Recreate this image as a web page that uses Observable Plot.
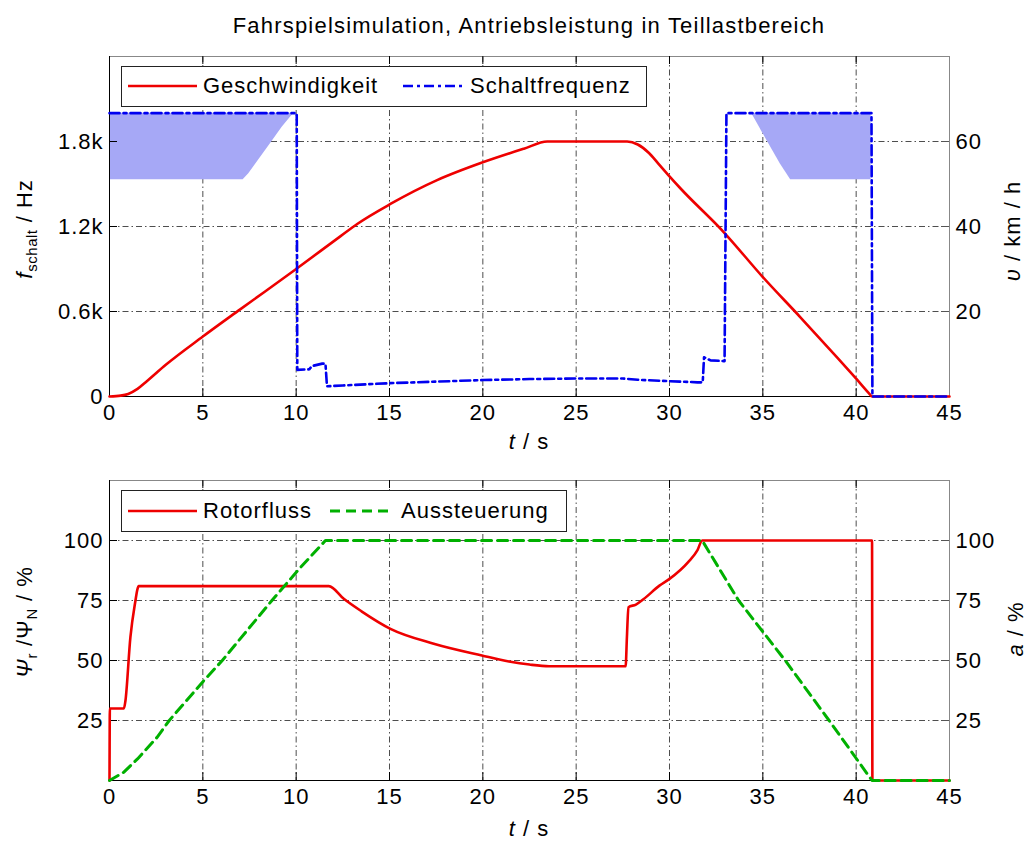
<!DOCTYPE html>
<html>
<head>
<meta charset="utf-8">
<script src="https://cdn.jsdelivr.net/npm/d3@7"></script>
<script src="https://cdn.jsdelivr.net/npm/@observablehq/plot@0.6"></script>
<style>
  body { margin: 0; background: #fff; font-family: "Liberation Sans", Arial, sans-serif; color: #000; }
  #wrap { position: relative; width: 1028px; height: 842px; overflow: hidden; }
  #wrap svg text { letter-spacing: 1px; }
  .ov { position: absolute; white-space: nowrap; line-height: 1; letter-spacing: 1px; z-index: 5; }
  .ov sub { font-size: 15px; vertical-align: -5px; letter-spacing: 0.5px; }
  .leg { position: absolute; border: 1px solid #222; background: #fff; z-index: 4; box-sizing: border-box; }
</style>
</head>
<body>
<div id="wrap"></div>
<script>
// ---------- data ----------
const title = "Fahrspielsimulation, Antriebsleistung in Teillastbereich";
const xTicks = [0, 5, 10, 15, 20, 25, 30, 35, 40, 45];
const xGrid = [5, 10, 15, 20, 25, 30, 35, 40];
const fTicks = [0, 600, 1200, 1800];
const fTickLabels = ["0", "0.6k", "1.2k", "1.8k"];
const vTicks = [20, 40, 60];
const pctTicks = [25, 50, 75, 100];
const HZ_PER_KMH = 30; // right axis: 20 km/h <-> 0.6 kHz

// Geschwindigkeit (km/h)
const speedT = [0, 0.6, 1.0, 1.5, 2.0, 3.0, 5.0, 7.0, 10, 12.4, 13.27, 15.05, 17.55, 20, 22.2, 23.45, 27.73, 28.3, 28.9, 29.4, 30.0, 30.58, 32.9, 35, 37, 39, 40, 40.7, 40.85, 45];
const speedV = [0, 0.2, 0.6, 1.8, 3.6, 7.4, 14.1, 20.5, 30.0, 37.8, 40.6, 45.3, 50.9, 55.1, 58.3, 60, 60, 59.3, 57.3, 54.8, 51.8, 49.0, 38.7, 28.1, 18.7, 9.1, 4.2, 0.7, 0, 0];

// Schaltfrequenz (Hz)
const freqT = [0, 10.03, 10.06, 10.7, 10.85, 11.4, 11.57, 11.65, 12.5, 15, 17.5, 20, 22.5, 25, 27.5, 28.3, 30, 31.5, 31.78, 31.85, 32.2, 32.9, 32.95, 33.05, 40.82, 40.87, 45];
const freqHz = [2000, 2000, 188, 192, 215, 232, 232, 72, 78, 94, 105, 116, 123, 127, 127, 118, 108, 100, 100, 277, 255, 250, 250, 2000, 2000, 0, 0];

// shaded areas (Hz vs s)
const shadeLeftT = [7.16, 7.46, 8.62, 9.25, 9.87];
const shadeLeftF = [1530, 1572, 1784, 1901, 2000];
const shadeRightT = [36.49, 35.94, 35.22, 34.4];
const shadeRightF = [1530, 1642, 1807, 2000];
const shadeRightEnd = 40.8;

// Rotorfluss (%)
const fluxT = [0, 0.02, 0.77, 0.85, 1.12, 1.35, 1.57, 11.75, 12.55, 13.5, 15.05, 17.37, 19.95, 21.4, 22.5, 23.55, 27.65, 27.72, 27.8, 28.2, 28.6, 29.46, 30, 31, 31.5, 31.75, 40.85, 40.87, 45];
const fluxPct = [0, 30, 30, 33, 59.7, 73, 81, 81, 75.7, 70.5, 63.2, 57, 52.1, 49.6, 48.3, 47.6, 47.6, 60, 72.2, 73.3, 75.5, 81.2, 84, 91, 96, 100, 100, 0, 0];

// Aussteuerung (%)
const modT = [0, 0.77, 1.5, 2.55, 3.2, 5.04, 6.04, 8.7, 10.2, 11.57, 31.75, 33.7, 36.2, 38.55, 40.85, 45];
const modPct = [0, 3.5, 9, 18, 25, 41.5, 50, 75, 88.5, 100, 100, 75, 50, 25, 0, 0];

// ---------- tables ----------
const speed = speedT.map((t, i) => ({t, v: speedV[i]}));
const freq = freqT.map((t, i) => ({t, f: freqHz[i]}));
const shadeL = shadeLeftT.map((t, i) => ({t, f: shadeLeftF[i]}));
const shadeR = shadeRightT.map((t, i) => ({t, f: shadeRightF[i]}));
const flux = fluxT.map((t, i) => ({t, p: fluxPct[i]}));
const mod = modT.map((t, i) => ({t, p: modPct[i]}));

// ---------- styles ----------
const RED = "#ee0000", BLUE = "#0000f0", GREEN = "#00b000", SHADE = "#a6a8f6";
const gridStyle = {stroke: "#222", strokeOpacity: 0.8, strokeWidth: 1, strokeDasharray: "6,3,1.5,3"};
const font = "'Liberation Sans', Arial, sans-serif";
const W = 1028, ML = 109, MR = 79;
const innerW = W - ML - MR;

const wrap = document.getElementById("wrap");

function tickMarks(xs, ys, innerH) {
  const k = 8;
  return [
    Plot.ruleX(xs, {insetTop: innerH - k, stroke: "#000"}),
    Plot.ruleX(xs, {insetBottom: innerH - k, stroke: "#000"}),
    Plot.ruleY(ys, {insetRight: innerW - k, stroke: "#000"}),
    Plot.ruleY(ys, {insetLeft: innerW - k, stroke: "#555"})
  ];
}

// ---------- top panel ----------
const topH = 340;
const topPlot = Plot.plot({
  width: W, height: 406,
  marginLeft: ML, marginRight: MR, marginTop: 6, marginBottom: 60,
  x: {domain: [0, 45]},
  y: {domain: [0, 2400]},
  style: {fontFamily: font, fontSize: "22px", color: "#000", background: "transparent", overflow: "visible"},
  marks: [
    Plot.ruleX(xGrid, gridStyle),
    Plot.ruleY(fTicks.slice(1), gridStyle),
    Plot.areaX(shadeL, {y: "f", x1: 0, x2: "t", fill: SHADE}),
    Plot.areaX(shadeR, {y: "f", x1: "t", x2: shadeRightEnd, fill: SHADE}),
    Plot.frame({stroke: "#888"}),
    ...tickMarks(xGrid, fTicks.slice(1), topH),
    Plot.ruleX([0], {stroke: "#000"}),
    Plot.ruleY([0], {stroke: "#000"}),
    Plot.line(speed, {x: "t", y: d => d.v * HZ_PER_KMH, stroke: RED, strokeWidth: 2.6, curve: "monotone-x"}),
    Plot.line(freq, {x: "t", y: "f", stroke: BLUE, strokeWidth: 2.6, strokeDasharray: "10,4,3,4"}),
    Plot.axisX({ticks: xTicks, tickSize: 0, tickPadding: 8, label: null}),
    Plot.axisY({ticks: fTicks, tickFormat: (d) => fTickLabels[fTicks.indexOf(d)], tickSize: 0, tickPadding: 6, label: null}),
    Plot.axisY({anchor: "right", ticks: vTicks.map(v => v * HZ_PER_KMH), tickFormat: d => String(d / HZ_PER_KMH), tickSize: 0, tickPadding: 6, label: null})
  ]
});
topPlot.style.position = "absolute";
topPlot.style.left = "0px";
topPlot.style.top = "50px";
wrap.appendChild(topPlot);

// ---------- bottom panel ----------
const botH = 300;
const botPlot = Plot.plot({
  width: W, height: 386,
  marginLeft: ML, marginRight: MR, marginTop: 24, marginBottom: 62,
  x: {domain: [0, 45]},
  y: {domain: [0, 125]},
  style: {fontFamily: font, fontSize: "22px", color: "#000", background: "transparent", overflow: "visible"},
  marks: [
    Plot.ruleX(xGrid, gridStyle),
    Plot.ruleY(pctTicks, gridStyle),
    Plot.frame({stroke: "#888"}),
    ...tickMarks(xGrid, pctTicks, botH),
    Plot.ruleX([0], {stroke: "#000"}),
    Plot.ruleY([0], {stroke: "#000"}),
    Plot.line(flux, {x: "t", y: "p", stroke: RED, strokeWidth: 2.6, curve: "monotone-x"}),
    Plot.line(mod, {x: "t", y: "p", stroke: GREEN, strokeWidth: 3, strokeDasharray: "10,6"}),
    Plot.axisX({ticks: xTicks, tickSize: 0, tickPadding: 8, label: null}),
    Plot.axisY({ticks: pctTicks, tickSize: 0, tickPadding: 6, label: null}),
    Plot.axisY({anchor: "right", ticks: pctTicks, tickSize: 0, tickPadding: 6, label: null})
  ]
});
botPlot.style.position = "absolute";
botPlot.style.left = "0px";
botPlot.style.top = "456px";
wrap.appendChild(botPlot);

// ---------- overlays: title, axis labels, legends ----------
function place(html, x, y, size = 22, rotate = 0, anchor = "middle") {
  const d = document.createElement("div");
  d.className = "ov";
  d.innerHTML = html;
  d.style.left = x + "px";
  d.style.top = y + "px";
  d.style.fontSize = size + "px";
  d.style.transform = `translate(${anchor === "start" ? "0" : "-50%"}, -50%) rotate(${rotate}deg)`;
  wrap.appendChild(d);
  return d;
}
const t = place(title, 529, 26, 22);
t.style.letterSpacing = "1.2px";
place("<i>t</i> / s", 529, 442, 22);
place("<i>t</i> / s", 529, 829, 22);
place("<i>f</i><sub>schalt</sub> / Hz", 26, 229, 22, -90);
place("<i>υ</i> / km / h", 1013, 231, 22, -90);
place("<i>Ψ</i><sub>r</sub> /Ψ<sub>N</sub> / %", 26, 622, 22, -90);
place("<i>a</i> / %", 1016, 629, 22, -90);

function legendBox(x, y, w, h) {
  const b = document.createElement("div");
  b.className = "leg";
  b.style.left = x + "px"; b.style.top = y + "px";
  b.style.width = w + "px"; b.style.height = h + "px";
  wrap.appendChild(b);
}
function sample(x1, x2, y, color, width, dash) {
  const ns = "http://www.w3.org/2000/svg";
  const s = document.createElementNS(ns, "svg");
  s.setAttribute("width", x2 - x1); s.setAttribute("height", 10);
  s.style.cssText = `position:absolute;left:${x1}px;top:${y - 5}px;z-index:6;`;
  const l = document.createElementNS(ns, "line");
  l.setAttribute("x1", 0); l.setAttribute("x2", x2 - x1);
  l.setAttribute("y1", 5); l.setAttribute("y2", 5);
  l.setAttribute("stroke", color); l.setAttribute("stroke-width", width);
  if (dash) l.setAttribute("stroke-dasharray", dash);
  s.appendChild(l);
  wrap.appendChild(s);
}
legendBox(121, 66, 526, 41);
sample(128, 197, 86, RED, 2.6);
place("Geschwindigkeit", 203, 86, 22, 0, "start");
sample(403, 466, 86, BLUE, 2.6, "10,4,3,4");
place("Schaltfrequenz", 470, 86, 22, 0, "start");

legendBox(121, 490, 446, 42);
sample(128, 197, 511, RED, 2.6);
place("Rotorfluss", 203, 511, 22, 0, "start");
sample(330, 394, 511, GREEN, 3, "10,6");
place("Aussteuerung", 401, 511, 22, 0, "start");
</script>
</body>
</html>
